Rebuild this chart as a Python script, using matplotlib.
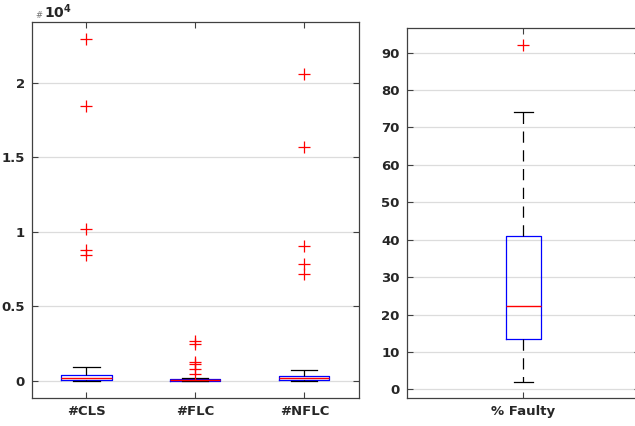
import matplotlib
matplotlib.use("Agg")
import matplotlib.pyplot as plt

# ---- data (counts in units of 1e4 for left panel) ----
left_labels = ["#CLS", "#FLC", "#NFLC"]
left_whislo = [0.0, 0.0, 0.0]
left_q1 = [0.002, 0.0005, 0.002]
left_med = [0.018, 0.004, 0.015]
left_q3 = [0.039, 0.010, 0.032]
left_whishi = [0.093, 0.020, 0.075]
left_fliers = [
    [2.296, 1.845, 1.021, 0.875, 0.848],
    [0.268, 0.250, 0.127, 0.111, 0.082, 0.044],
    [2.058, 1.571, 0.904, 0.786, 0.714],
]

right_label = ["% Faulty"]
right_whislo = [2.1]
right_q1 = [13.4]
right_med = [22.3]
right_q3 = [41.0]
right_whishi = [74.2]
right_fliers = [[92.1]]

left_yticks = [0, 0.5, 1, 1.5, 2]
left_yticklabels = ["0", "0.5", "1", "1.5", "2"]
right_yticks = [0, 10, 20, 30, 40, 50, 60, 70, 80, 90]

W, H = 635, 426
fig = plt.figure(figsize=(W / 100, H / 100), dpi=100)

TXT = "#262626"
SP = "#404040"


def make_stats(labels, lo, q1, med, q3, hi, fl):
    return [dict(label=labels[i], whislo=lo[i], q1=q1[i], med=med[i], q3=q3[i],
                 whishi=hi[i], fliers=fl[i]) for i in range(len(labels))]


def style(ax):
    for s in ax.spines.values():
        s.set_color(SP)
        s.set_linewidth(0.9)
    ax.tick_params(direction="in", length=4, width=0.8, color=SP,
                   top=True, right=True, labelsize=9.5, labelcolor=TXT, pad=5)
    for t in ax.get_xticklabels() + ax.get_yticklabels():
        t.set_fontweight("bold")
    ax.yaxis.grid(True, color="#dcdcdc", linewidth=0.9)
    ax.set_axisbelow(True)


common = dict(
    patch_artist=False, showfliers=True,
    boxprops=dict(color="blue", linewidth=0.9),
    medianprops=dict(color="red", linewidth=1.0),
    whiskerprops=dict(color="black", linewidth=0.9, linestyle=(0, (9, 6))),
    capprops=dict(color="black", linewidth=0.9),
    flierprops=dict(marker="+", markeredgecolor="red", markersize=8,
                    markeredgewidth=0.9, linestyle="none"),
)

# left panel
ax1 = fig.add_axes([32 / W, 1 - 397.7 / H, (358.8 - 32) / W, (397.7 - 22) / H])
ax1.bxp(make_stats(left_labels, left_whislo, left_q1, left_med, left_q3,
                   left_whishi, left_fliers),
        positions=[1, 2, 3], widths=0.46, capwidths=0.24, **common)
ax1.set_xlim(0.5, 3.5)
ax1.set_ylim(-0.114, 2.41)
ax1.set_yticks(left_yticks)
ax1.set_yticklabels(left_yticklabels)
style(ax1)
fig.text(35 / W, 1 - 18 / H, "#", fontsize=6, color="#707070",
         va="baseline", ha="left")
fig.text(44 / W, 1 - 18 / H, r"10$^{\mathbf{4}}$", fontsize=10,
         fontweight="bold", color=TXT, va="baseline", ha="left")

# right panel
ax2 = fig.add_axes([406.7 / W, 1 - 397.7 / H, 233.3 / W, (397.7 - 28.3) / H])
ax2.bxp(make_stats(right_label, right_whislo, right_q1, right_med, right_q3,
                   right_whishi, right_fliers),
        positions=[1], widths=0.15, capwidths=0.08, **common)
ax2.set_xlim(0.5, 1.5)
ax2.set_ylim(-2.2, 96.5)
ax2.set_yticks(right_yticks)
style(ax2)

fig.savefig("out.png", dpi=100)
